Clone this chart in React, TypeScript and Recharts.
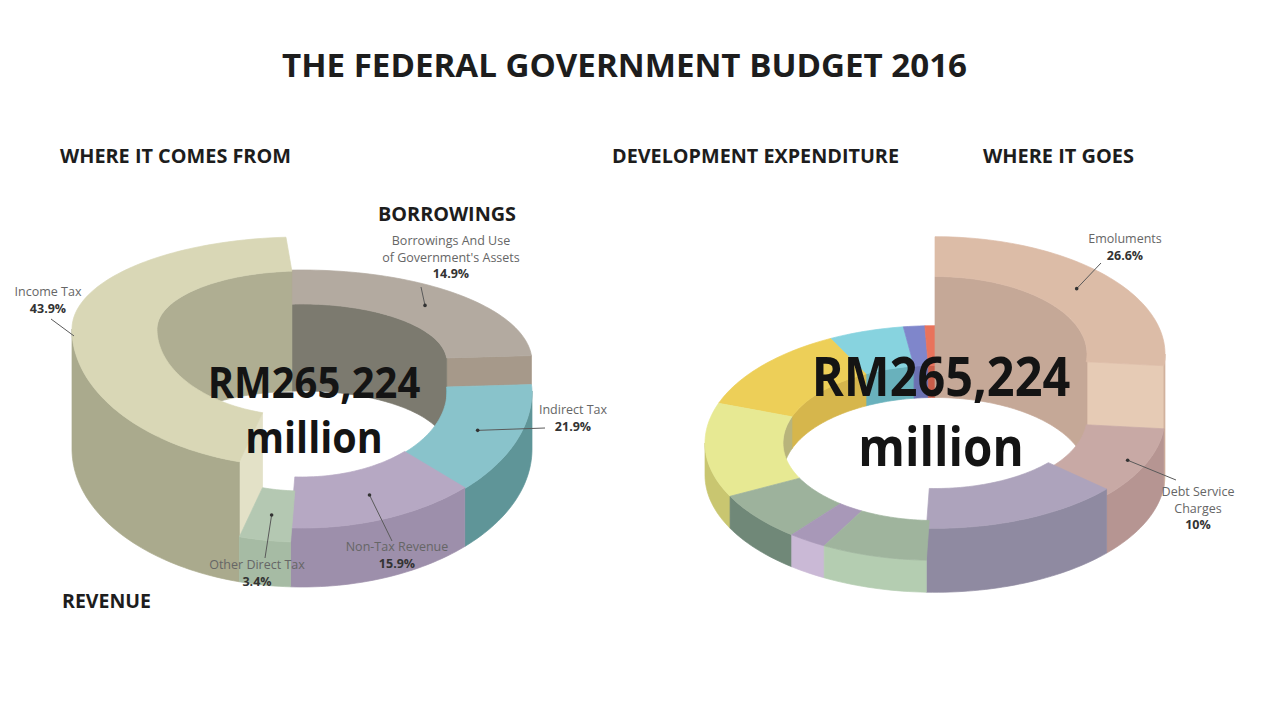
import React from 'react';
import { PieChart, Pie } from 'recharts';

// ---------------- data ----------------
// Revenue ring ("where it comes from"), clockwise from 12 o'clock.
const REVENUE_CATEGORIES = [
  "Borrowings And Use of Government's Assets",
  'Indirect Tax',
  'Non-Tax Revenue',
  'Other Direct Tax',
  'Income Tax',
];
// slice sizes as they are drawn in the picture (share of the ring, %)
const REVENUE_VALUES = [25.0, 13.6, 13.3, 3.6, 44.5];
// percentage labels printed on the picture
const REVENUE_PCT_LABELS = ['14.9%', '21.9%', '15.9%', '3.4%', '43.9%'];
const REVENUE_LABEL_LINES = [
  ['Borrowings And Use', "of Government's Assets"],
  ['Indirect Tax'],
  ['Non-Tax Revenue'],
  ['Other Direct Tax'],
  ['Income Tax'],
];

// Spending ring ("where it goes"), clockwise from 12 o'clock.
const SPENDING_CATEGORIES = [
  'Emoluments',
  'Debt Service Charges',
  'Item 3',
  'Item 4',
  'Item 5',
  'Item 6',
  'Item 7',
  'Item 8',
  'Item 9',
  'Item 10',
  'Item 11',
];
const SPENDING_VALUES = [26.6, 10.0, 14.0, 7.4, 2.7, 6.8, 13.0, 12.0, 5.3, 1.5, 0.7];
const SPENDING_PCT_LABELS = ['26.6%', '10%', '', '', '', '', '', '', '', '', ''];
const SPENDING_LABEL_LINES = [['Emoluments'], ['Debt Service', 'Charges']];

const TITLE = 'THE FEDERAL GOVERNMENT BUDGET 2016';
const TOTAL_LINE_1 = 'RM265,224';
const TOTAL_LINE_2 = 'million';

const revenueTable = REVENUE_CATEGORIES.map((name, i) => ({ name, value: REVENUE_VALUES[i] }));
const spendingTable = SPENDING_CATEGORIES.map((name, i) => ({ name, value: SPENDING_VALUES[i] }));

// ---------------- styles / layout ----------------
const W = 1276;
const H = 720;
const FONT = "'Open Sans', 'DejaVu Sans', sans-serif";

type Ring = { cx: number; cy: number; rOut: number; rIn: number; kBack: number; kFront: number; start: number };
type Shade = { top: string; wall: string; inner: string; cap: string };

const LEFT_RING: Ring = { cx: 302, cy: 449, rOut: 230, rIn: 145, kBack: 0.4, kFront: 0.6, start: 94 };
const LEFT_DEPTH = [87, 58, 59, 45, 120];
const LEFT_SHADES: Shade[] = [
  { top: '#b3aaa0', wall: '#9a9084', inner: '#7c7a6f', cap: '#a6998a' },
  { top: '#89c3cb', wall: '#5f9598', inner: '#6aa5ab', cap: '#79b3ba' },
  { top: '#b6a8c3', wall: '#9d8fab', inner: '#a193af', cap: '#a99bb7' },
  { top: '#b4c8b2', wall: '#a6bba4', inner: '#9fb39d', cap: '#c0d2be' },
  { top: '#d9d7b6', wall: '#aaaa8d', inner: '#afae92', cap: '#e3e1c7' },
];

const RIGHT_RING: Ring = { cx: 935, cy: 475, rOut: 230, rIn: 152, kBack: 0.51, kFront: 0.51, start: 90 };
const RIGHT_DEPTH = [121, 58, 64, 32, 32, 32, 32, 32, 32, 32, 32];
const RIGHT_SHADES: Shade[] = [
  { top: '#dcbca7', wall: '#d3b39e', inner: '#c5a897', cap: '#e6cbb5' },
  { top: '#c8a9a5', wall: '#b69592', inner: '#b09490', cap: '#bf9f9b' },
  { top: '#ada3bc', wall: '#8f8aa1', inner: '#9a90aa', cap: '#a097b0' },
  { top: '#9fb49d', wall: '#b4cdb1', inner: '#8ea38c', cap: '#a9c0a6' },
  { top: '#a898b8', wall: '#cab9d6', inner: '#9888aa', cap: '#baa9c8' },
  { top: '#9db29c', wall: '#708878', inner: '#869b86', cap: '#7f9686' },
  { top: '#e7e993', wall: '#c9c670', inner: '#b8b47b', cap: '#d6d680' },
  { top: '#edcf58', wall: '#d4b54b', inner: '#d6b64c', cap: '#e2c352' },
  { top: '#87d3df', wall: '#6cb7c2', inner: '#69b1bc', cap: '#7bc6d1' },
  { top: '#7f86cb', wall: '#6a70b3', inner: '#6b71b2', cap: '#757cc0' },
  { top: '#e9735c', wall: '#cf5e48', inner: '#c95d49', cap: '#df6a53' },
];

// callout layout: text anchor, start of leader line, and where on the slice it points
// (rFrac: across the ring width, at: along the slice from its start angle to its end angle)
type Callout = { x: number; y: number; from: [number, number]; rFrac: number; at: number; dot: boolean };
const LEFT_CALLOUTS: (Callout | null)[] = [
  { x: 451, y: 245, from: [421, 287], rFrac: 0.5, at: 0.5, dot: true },
  { x: 573, y: 414, from: [545, 428], rFrac: 0.5, at: 0.5, dot: true },
  { x: 397, y: 551, from: [392, 541], rFrac: 0.5, at: 0.5, dot: true },
  { x: 257, y: 569, from: [265, 558], rFrac: 0.5, at: 0.5, dot: true },
  { x: 48, y: 296, from: [51, 319], rFrac: 0.98, at: 0.445, dot: false },
];
const RIGHT_CALLOUTS: (Callout | null)[] = [
  { x: 1125, y: 243, from: [1101, 263], rFrac: 0.5, at: 0.5, dot: true },
  { x: 1198, y: 496, from: [1176, 480], rFrac: 0.75, at: 0.5, dot: true },
];

// ---------------- 3D ring drawing ----------------
const BUCKETS = 30;
const RAD = Math.PI / 180;

function bucketOf(midDeg: number) {
  const s = Math.sin(midDeg * RAD);
  return Math.min(BUCKETS - 1, Math.max(0, Math.floor(((1 - s) / 2) * BUCKETS)));
}

function pathOf(pts: number[][]) {
  return 'M' + pts.map((q) => q[0].toFixed(2) + ',' + q[1].toFixed(2)).join('L') + 'Z';
}

function runsOf(angs: number[], pred: (a: number) => boolean) {
  const out: number[][] = [];
  let cur: number[] = [];
  for (const a of angs) {
    if (pred(a)) cur.push(a);
    else {
      if (cur.length > 1) out.push(cur);
      cur = [];
    }
  }
  if (cur.length > 1) out.push(cur);
  return out;
}

function project(ring: Ring, cx: number, cy: number, R: number, a: number, z: number) {
  const s = Math.sin(a * RAD);
  const k = s > 0 ? ring.kBack : ring.kFront;
  return [cx + R * Math.cos(a * RAD), cy - R * k * s - z];
}

function ringLayer(ring: Ring, depth: number[], shades: Shade[], pass: number) {
  return (p: any) => {
    const i: number = p.index;
    const a1 = Math.max(p.startAngle, p.endAngle);
    const a0 = Math.min(p.startAngle, p.endAngle);
    const mid = (a0 + a1) / 2;
    if (bucketOf(mid) !== pass || a1 - a0 <= 0) return <g />;
    const cx: number = p.cx;
    const cy: number = p.cy;
    const rO: number = p.outerRadius;
    const rI: number = p.innerRadius;
    const n = depth.length;
    const h = depth[i];
    const hPrev = depth[(i - 1 + n) % n];
    const hNext = depth[(i + 1) % n];
    const sh = shades[i];
    const P = (R: number, a: number, z: number) => project(ring, cx, cy, R, a, z);

    const angs: number[] = [];
    const steps = Math.max(2, Math.ceil((a1 - a0) / 1.5));
    for (let j = 0; j <= steps; j++) angs.push(a1 - ((a1 - a0) * j) / steps);
    for (let m = Math.ceil(a0 / 180) * 180; m < a1; m += 180) if (m > a0) angs.push(m);
    angs.sort((x, y) => y - x);

    const els: React.ReactNode[] = [];
    const face = (d: string, fill: string, key: string) =>
      els.push(<path key={key} d={d} fill={fill} stroke={fill} strokeWidth={0.7} strokeLinejoin="round" />);

    // end caps (only the parts rising above the neighbouring slice)
    if (Math.cos(a1 * RAD) < 0 && h > hPrev) {
      face(pathOf([P(rI, a1, hPrev), P(rO, a1, hPrev), P(rO, a1, h), P(rI, a1, h)]), sh.cap, 'c1');
    }
    if (Math.cos(a0 * RAD) > 0 && h > hNext) {
      face(pathOf([P(rI, a0, hNext), P(rO, a0, hNext), P(rO, a0, h), P(rI, a0, h)]), sh.cap, 'c0');
    }
    // inner wall, back half
    runsOf(angs, (a) => Math.sin(a * RAD) >= -1e-9).forEach((run, j) => {
      const pts = run.map((a) => P(rI, a, h)).concat(run.slice().reverse().map((a) => P(rI, a, 0)));
      face(pathOf(pts), sh.inner, 'i' + j);
    });
    // outer wall, front half
    runsOf(angs, (a) => Math.sin(a * RAD) <= 1e-9).forEach((run, j) => {
      const pts = run.map((a) => P(rO, a, h)).concat(run.slice().reverse().map((a) => P(rO, a, 0)));
      face(pathOf(pts), sh.wall, 'o' + j);
    });
    // top face
    const top = angs.map((a) => P(rO, a, h)).concat(angs.slice().reverse().map((a) => P(rI, a, h)));
    face(pathOf(top), sh.top, 't');

    return <g>{els}</g>;
  };
}

function calloutLayer(
  ring: Ring,
  depth: number[],
  callouts: (Callout | null)[],
  lines: string[][],
  pcts: string[],
) {
  return (p: any) => {
    const i: number = p.index;
    const c = callouts[i];
    if (!c) return <g />;
    const ang = p.startAngle + (p.endAngle - p.startAngle) * c.at;
    const R = p.innerRadius + (p.outerRadius - p.innerRadius) * c.rFrac;
    const [dx, dy] = project(ring, p.cx, p.cy, R, ang, depth[i]);
    const ls = lines[i] || [];
    const lh = 16.5;
    return (
      <g>
        <line x1={c.from[0]} y1={c.from[1]} x2={dx} y2={dy} stroke="#5a5a5a" strokeWidth={1} />
        {c.dot && <circle cx={dx} cy={dy} r={1.8} fill="#333" />}
        <text textAnchor="middle" fontFamily={FONT} fontSize={12.5} stroke="none">
          {ls.map((ln, j) => (
            <tspan key={j} x={c.x} y={c.y + j * lh} fill="#666">
              {ln}
            </tspan>
          ))}
          <tspan x={c.x} y={c.y + ls.length * lh} fontWeight={700} fill="#333">
            {pcts[i]}
          </tspan>
        </text>
      </g>
    );
  };
}

function ringPies(
  prefix: string,
  table: { name: string; value: number }[],
  ring: Ring,
  depth: number[],
  shades: Shade[],
  callouts: (Callout | null)[],
  lines: string[][],
  pcts: string[],
) {
  const common = {
    data: table,
    dataKey: 'value',
    nameKey: 'name',
    cx: ring.cx,
    cy: ring.cy,
    innerRadius: ring.rIn,
    outerRadius: ring.rOut,
    startAngle: ring.start,
    endAngle: ring.start - 360,
    fill: 'none',
    stroke: 'none',
    isAnimationActive: false,
    labelLine: false,
  };
  const pies: React.ReactNode[] = [];
  for (let pass = 0; pass < BUCKETS; pass++) {
    pies.push(<Pie key={`${prefix}${pass}`} {...(common as any)} label={ringLayer(ring, depth, shades, pass)} />);
  }
  pies.push(
    <Pie key={`${prefix}labels`} {...(common as any)} label={calloutLayer(ring, depth, callouts, lines, pcts)} />,
  );
  return pies;
}

function Heading({ x, y, text, len, size }: any) {
  return (
    <text
      x={x}
      y={y}
      fontFamily={FONT}
      fontWeight={700}
      fontSize={size}
      fill="#1d1d1d"
      textLength={len}
      lengthAdjust="spacingAndGlyphs"
    >
      {text}
    </text>
  );
}

function TotalLine({ x, y, text, size, sx }: any) {
  return (
    <text
      transform={`translate(${x} ${y}) scale(${sx} 1)`}
      x={0}
      y={0}
      fontFamily={FONT}
      fontWeight={700}
      fontSize={size}
      fill="#141414"
      textAnchor="middle"
    >
      {text}
    </text>
  );
}

export default function App() {
  return (
    <div style={{ position: 'absolute', left: 0, top: 0, width: W, height: H, background: '#ffffff' }}>
      <PieChart width={W} height={H} margin={{ top: 0, right: 0, bottom: 0, left: 0 }}>
        {ringPies('L', revenueTable, LEFT_RING, LEFT_DEPTH, LEFT_SHADES, LEFT_CALLOUTS, REVENUE_LABEL_LINES, REVENUE_PCT_LABELS)}
        {ringPies('R', spendingTable, RIGHT_RING, RIGHT_DEPTH, RIGHT_SHADES, RIGHT_CALLOUTS, SPENDING_LABEL_LINES, SPENDING_PCT_LABELS)}
      </PieChart>
      <svg width={W} height={H} style={{ position: 'absolute', left: 0, top: 0, pointerEvents: 'none' }}>
        <Heading x={282} y={77} text={TITLE} len={685} size={33} />
        <Heading x={60} y={163} text="WHERE IT COMES FROM" len={231} size={20} />
        <Heading x={612} y={163} text="DEVELOPMENT EXPENDITURE" len={287} size={20} />
        <Heading x={983} y={163} text="WHERE IT GOES" len={151} size={20} />
        <Heading x={378} y={221} text="BORROWINGS" len={138} size={20} />
        <Heading x={62} y={608} text="REVENUE" len={89} size={20} />
        <TotalLine x={314} y={398} text={TOTAL_LINE_1} size={43} sx={0.93} />
        <TotalLine x={314} y={453} text={TOTAL_LINE_2} size={43} sx={0.92} />
        <TotalLine x={941} y={396} text={TOTAL_LINE_1} size={54} sx={0.9} />
        <TotalLine x={941} y={466} text={TOTAL_LINE_2} size={54} sx={0.88} />
      </svg>
    </div>
  );
}
